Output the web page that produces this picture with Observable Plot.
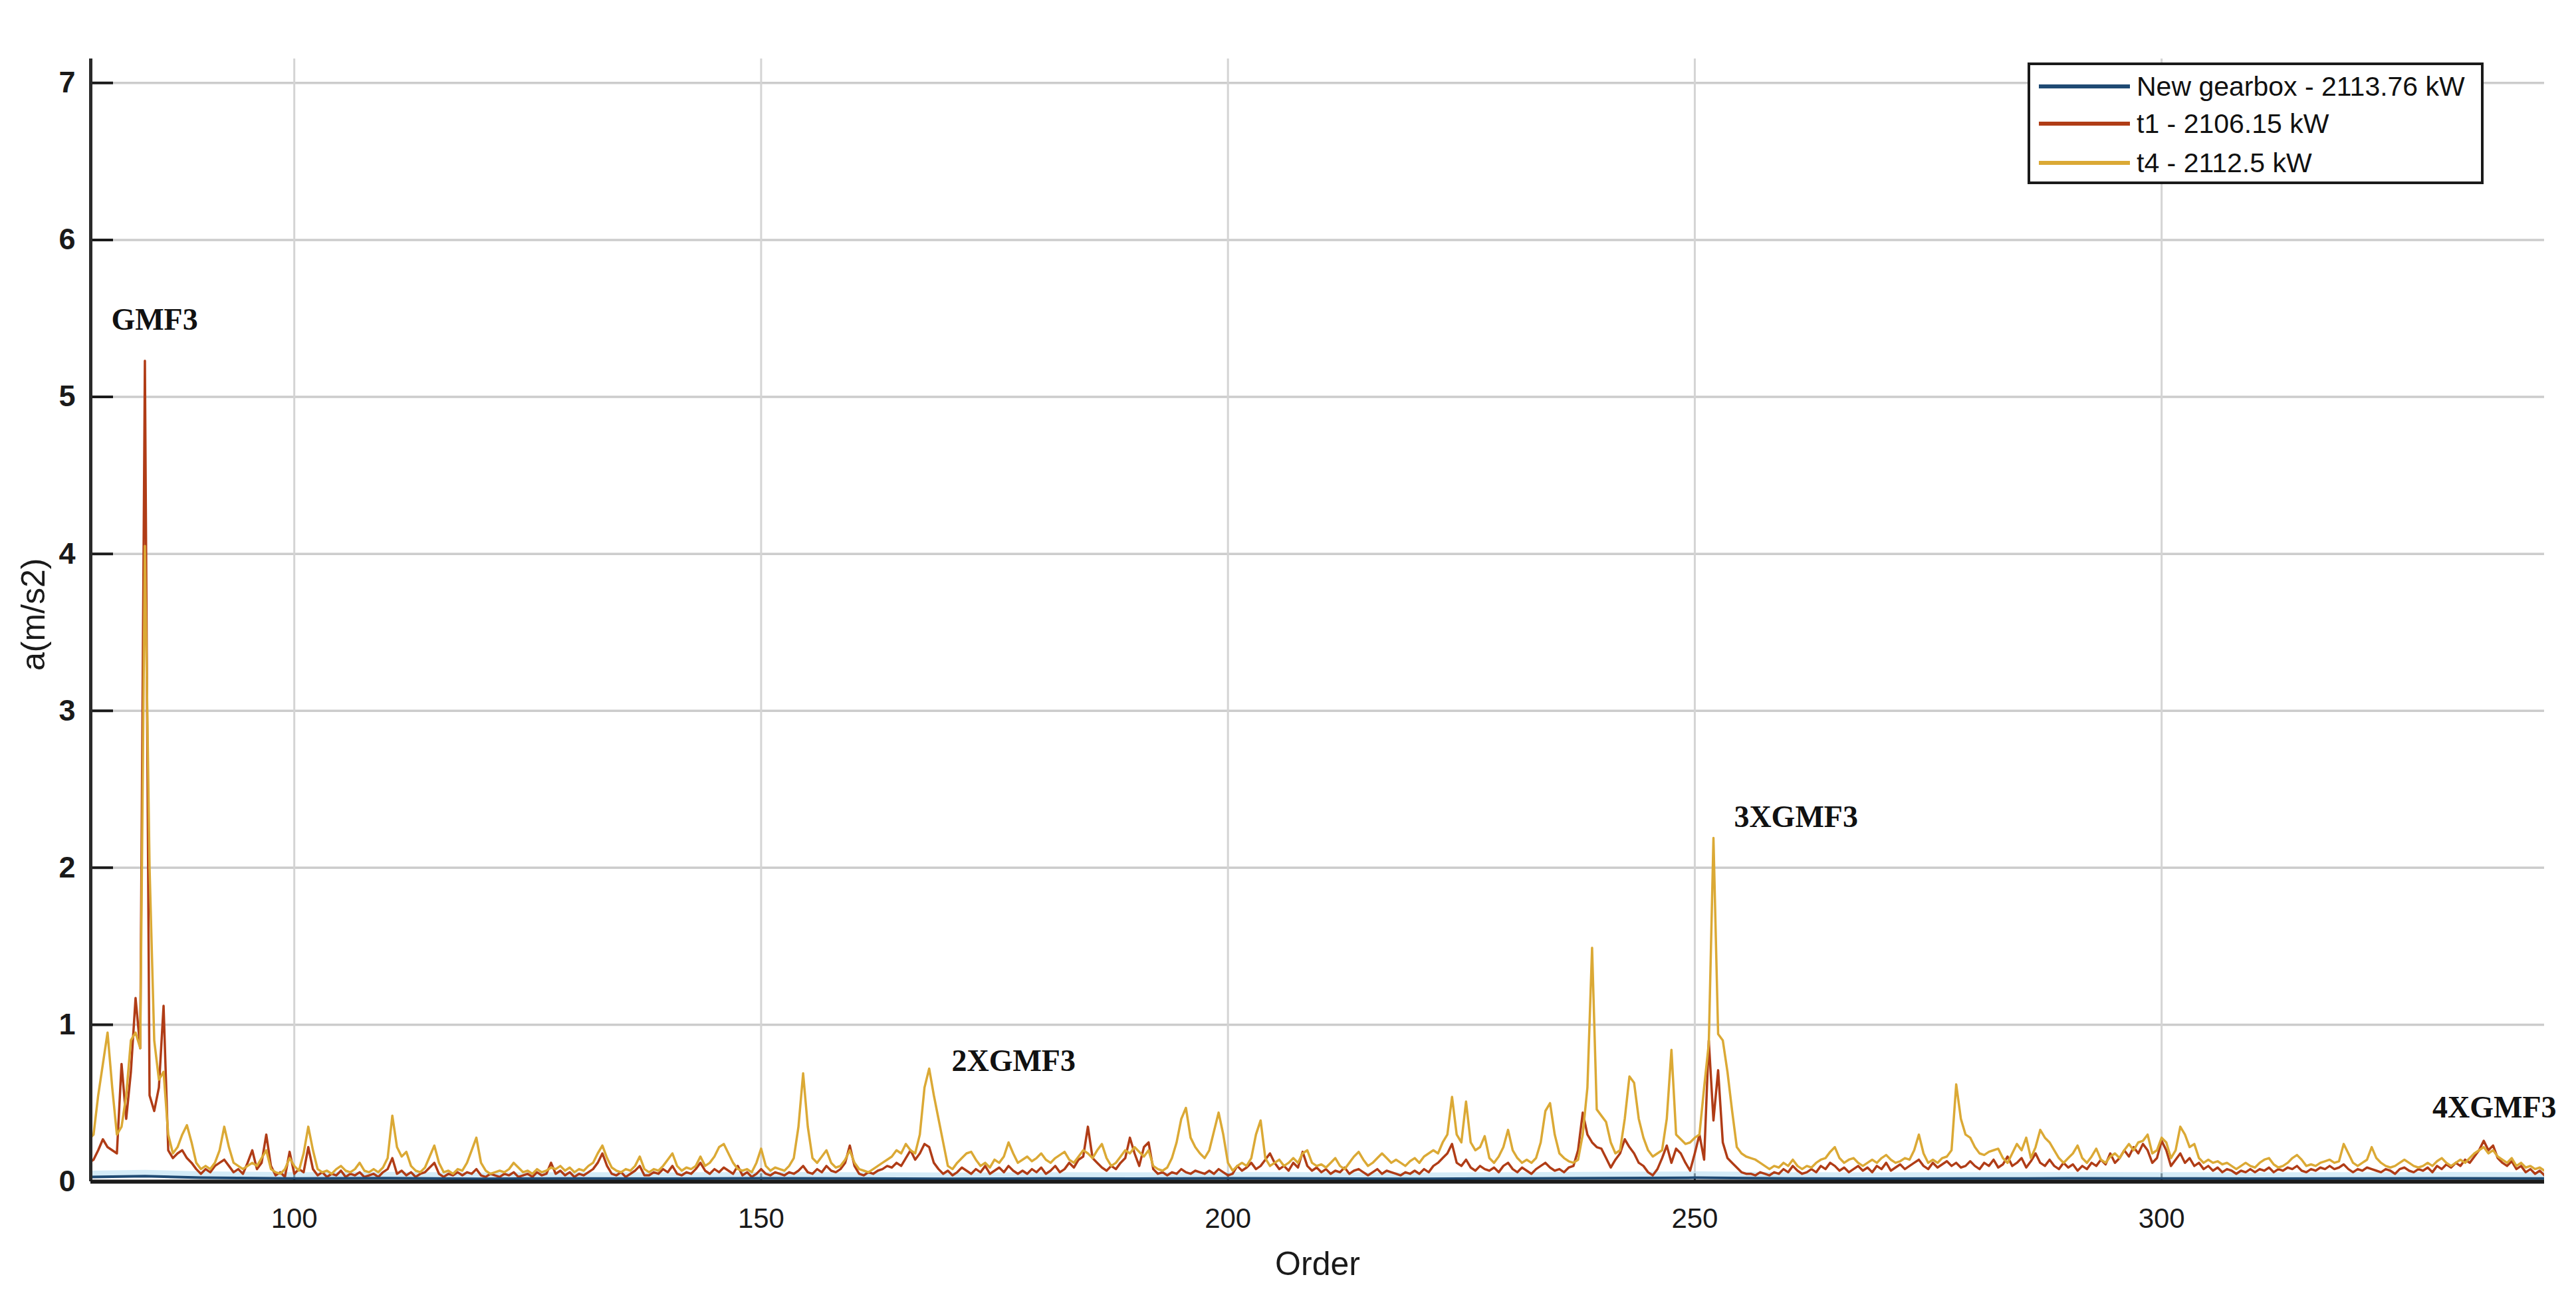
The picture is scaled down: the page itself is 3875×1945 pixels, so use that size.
<!DOCTYPE html>
<html><head><meta charset="utf-8">
<script src="https://cdn.jsdelivr.net/npm/d3@7"></script>
<script src="https://cdn.jsdelivr.net/npm/@observablehq/plot@0.6"></script>
<style>
body{margin:0;background:#fff;}
#wrap{position:relative;width:3875px;height:1945px;overflow:hidden;background:#fff;font-family:"Liberation Sans",Arial,sans-serif;}
#wrap svg{position:absolute;left:0;top:0;}
#legend{position:absolute;left:3050px;top:94px;width:686px;height:183px;box-sizing:border-box;border:4px solid #1a1a1a;background:#fff;}
.row{position:absolute;left:0;height:50px;display:flex;align-items:center;}
.sw{width:137px;height:6px;margin-left:13px;margin-right:10px;}
.lab{font-size:41px;color:#111;white-space:nowrap;}
</style></head><body><div id="wrap"><div id="legend"></div></div>
<script>
// ---- data (order grid starts at 78, step 0.5) ----
const orderStart = 78, orderStep = 0.5;
const t4Values = [
 0.27,0.3,0.55,0.75,0.95,0.6,0.3,0.35,0.55,0.9,0.95,0.85,4.05,2.0,0.9,0.65,0.7,0.3,0.18,0.22,
 0.3,0.36,0.25,0.12,0.08,0.1,0.08,0.12,0.2,0.35,0.22,0.12,0.1,0.08,0.1,0.12,0.1,0.15,0.2,0.08,
 0.06,0.05,0.08,0.15,0.1,0.07,0.18,0.35,0.2,0.08,0.06,0.07,0.05,0.08,0.1,0.07,0.06,0.08,0.12,0.07,
 0.06,0.08,0.06,0.09,0.15,0.42,0.22,0.16,0.19,0.1,0.07,0.06,0.09,0.16,0.23,0.12,0.06,0.07,0.05,0.08,
 0.07,0.12,0.2,0.28,0.12,0.07,0.05,0.06,0.07,0.06,0.08,0.12,0.09,0.06,0.07,0.05,0.08,0.06,0.07,0.09,
 0.08,0.1,0.07,0.09,0.06,0.08,0.07,0.1,0.12,0.18,0.23,0.15,0.09,0.07,0.06,0.08,0.07,0.1,0.16,0.08,
 0.06,0.08,0.07,0.1,0.14,0.18,0.1,0.07,0.09,0.08,0.1,0.16,0.1,0.12,0.16,0.22,0.24,0.18,0.12,0.08,
 0.07,0.08,0.06,0.12,0.21,0.1,0.07,0.09,0.08,0.07,0.1,0.15,0.35,0.69,0.35,0.15,0.12,0.16,0.2,0.12,
 0.09,0.1,0.14,0.2,0.12,0.08,0.07,0.06,0.08,0.1,0.12,0.14,0.16,0.2,0.18,0.24,0.2,0.18,0.3,0.6,
 0.72,0.55,0.4,0.25,0.1,0.08,0.12,0.15,0.18,0.19,0.14,0.1,0.12,0.09,0.14,0.12,0.16,0.25,0.18,0.12,
 0.14,0.16,0.13,0.15,0.18,0.14,0.12,0.15,0.17,0.19,0.14,0.12,0.16,0.2,0.18,0.15,0.2,0.24,0.15,0.1,
 0.12,0.16,0.2,0.18,0.22,0.19,0.16,0.2,0.1,0.08,0.07,0.09,0.15,0.25,0.4,0.47,0.28,0.22,0.18,0.15,
 0.2,0.32,0.44,0.3,0.12,0.07,0.1,0.12,0.1,0.15,0.3,0.39,0.15,0.1,0.12,0.14,0.1,0.12,0.15,0.12,
 0.18,0.2,0.12,0.1,0.11,0.09,0.12,0.15,0.1,0.08,0.12,0.16,0.19,0.14,0.1,0.12,0.15,0.18,0.15,0.12,
 0.14,0.12,0.1,0.13,0.15,0.12,0.16,0.18,0.2,0.18,0.25,0.3,0.54,0.3,0.25,0.51,0.25,0.2,0.22,0.29,
 0.15,0.12,0.16,0.22,0.33,0.2,0.15,0.12,0.14,0.12,0.15,0.25,0.45,0.5,0.3,0.18,0.15,0.13,0.12,0.14,
 0.3,0.6,1.49,0.46,0.42,0.38,0.25,0.18,0.2,0.4,0.67,0.63,0.4,0.28,0.2,0.16,0.18,0.2,0.4,0.84,
 0.3,0.27,0.24,0.25,0.28,0.3,0.6,0.88,2.19,0.94,0.9,0.7,0.45,0.22,0.18,0.16,0.15,0.14,0.12,0.1,
 0.08,0.1,0.09,0.12,0.1,0.14,0.1,0.08,0.1,0.09,0.12,0.14,0.15,0.19,0.22,0.15,0.12,0.14,0.15,0.12,
 0.1,0.12,0.14,0.12,0.15,0.17,0.14,0.12,0.13,0.15,0.14,0.2,0.3,0.18,0.12,0.14,0.12,0.15,0.16,0.2,
 0.62,0.4,0.3,0.28,0.22,0.18,0.17,0.19,0.2,0.21,0.15,0.12,0.18,0.24,0.2,0.28,0.15,0.22,0.33,0.28,
 0.25,0.2,0.15,0.12,0.15,0.18,0.23,0.15,0.12,0.16,0.21,0.14,0.12,0.16,0.18,0.15,0.2,0.24,0.2,0.25,
 0.26,0.3,0.18,0.2,0.28,0.25,0.15,0.2,0.35,0.3,0.22,0.24,0.15,0.12,0.14,0.12,0.13,0.11,0.12,0.1,
 0.08,0.1,0.12,0.1,0.09,0.12,0.14,0.15,0.11,0.09,0.1,0.12,0.15,0.17,0.14,0.1,0.11,0.1,0.12,0.13,
 0.14,0.12,0.13,0.24,0.18,0.12,0.1,0.12,0.14,0.22,0.15,0.12,0.1,0.09,0.1,0.12,0.14,0.12,0.1,0.09,
 0.1,0.12,0.1,0.13,0.15,0.12,0.1,0.12,0.14,0.12,0.15,0.18,0.2,0.22,0.18,0.2,0.16,0.14,0.12,0.15,0.1,0.12,0.09,0.1,0.08,0.09,0.07
];
const t1Values = [
 0.12,0.14,0.2,0.27,0.22,0.2,0.18,0.75,0.4,0.7,1.17,0.85,5.23,0.55,0.45,0.6,1.12,0.2,0.15,0.18,
 0.2,0.15,0.12,0.08,0.05,0.08,0.06,0.1,0.12,0.14,0.1,0.06,0.08,0.05,0.12,0.2,0.08,0.12,0.3,0.1,
 0.04,0.06,0.03,0.19,0.05,0.08,0.06,0.22,0.08,0.04,0.06,0.03,0.05,0.04,0.07,0.03,0.05,0.04,0.06,0.03,
 0.04,0.05,0.03,0.06,0.08,0.15,0.05,0.07,0.04,0.06,0.03,0.05,0.06,0.09,0.12,0.05,0.03,0.05,0.04,0.06,
 0.04,0.06,0.05,0.08,0.04,0.03,0.05,0.04,0.03,0.05,0.04,0.06,0.03,0.04,0.05,0.03,0.06,0.04,0.05,0.12,
 0.05,0.07,0.04,0.06,0.03,0.05,0.04,0.06,0.08,0.12,0.18,0.1,0.05,0.04,0.06,0.03,0.05,0.07,0.1,0.04,
 0.04,0.06,0.05,0.08,0.06,0.1,0.05,0.04,0.06,0.05,0.08,0.12,0.07,0.05,0.08,0.06,0.09,0.07,0.05,0.1,
 0.04,0.06,0.03,0.05,0.08,0.05,0.04,0.06,0.05,0.04,0.06,0.05,0.07,0.1,0.06,0.05,0.08,0.06,0.1,0.07,
 0.06,0.08,0.12,0.23,0.1,0.05,0.04,0.06,0.05,0.07,0.08,0.1,0.09,0.12,0.1,0.15,0.2,0.14,0.18,0.24,
 0.22,0.12,0.08,0.05,0.07,0.04,0.06,0.09,0.07,0.05,0.08,0.06,0.1,0.05,0.07,0.09,0.06,0.1,0.07,0.05,
 0.07,0.05,0.08,0.06,0.09,0.05,0.07,0.1,0.06,0.08,0.12,0.09,0.14,0.16,0.35,0.15,0.12,0.09,0.07,0.1,
 0.08,0.12,0.15,0.28,0.18,0.1,0.22,0.25,0.08,0.05,0.06,0.04,0.06,0.05,0.08,0.06,0.05,0.07,0.06,0.05,
 0.07,0.05,0.08,0.06,0.04,0.05,0.1,0.07,0.09,0.12,0.08,0.1,0.14,0.18,0.12,0.08,0.1,0.07,0.12,0.09,
 0.19,0.1,0.07,0.09,0.06,0.08,0.05,0.07,0.06,0.09,0.05,0.07,0.08,0.06,0.04,0.06,0.08,0.05,0.07,0.06,
 0.05,0.04,0.06,0.05,0.07,0.05,0.08,0.06,0.1,0.12,0.15,0.18,0.24,0.12,0.1,0.14,0.09,0.07,0.1,0.08,
 0.07,0.09,0.06,0.1,0.12,0.08,0.06,0.09,0.07,0.05,0.08,0.1,0.12,0.09,0.07,0.08,0.06,0.09,0.1,0.2,
 0.44,0.3,0.25,0.22,0.21,0.15,0.09,0.14,0.18,0.27,0.22,0.18,0.12,0.1,0.06,0.04,0.08,0.15,0.23,0.12,
 0.21,0.18,0.12,0.07,0.18,0.3,0.14,0.9,0.39,0.71,0.25,0.15,0.12,0.09,0.06,0.05,0.05,0.04,0.06,0.05,
 0.04,0.06,0.05,0.08,0.06,0.1,0.07,0.05,0.06,0.08,0.06,0.1,0.08,0.12,0.1,0.07,0.09,0.06,0.08,0.1,
 0.07,0.09,0.06,0.1,0.08,0.12,0.07,0.09,0.11,0.08,0.1,0.12,0.14,0.1,0.08,0.12,0.09,0.11,0.13,0.1,
 0.12,0.09,0.1,0.13,0.1,0.08,0.12,0.1,0.14,0.09,0.11,0.16,0.1,0.12,0.15,0.09,0.13,0.18,0.12,0.1,
 0.14,0.1,0.08,0.12,0.09,0.11,0.07,0.1,0.08,0.12,0.1,0.14,0.11,0.18,0.12,0.15,0.2,0.16,0.22,0.18,
 0.24,0.2,0.12,0.15,0.26,0.2,0.1,0.14,0.18,0.12,0.15,0.1,0.12,0.08,0.1,0.07,0.09,0.06,0.08,0.07,
 0.05,0.07,0.06,0.08,0.06,0.08,0.07,0.09,0.06,0.08,0.07,0.09,0.08,0.1,0.07,0.06,0.08,0.07,0.09,0.08,
 0.1,0.08,0.09,0.11,0.08,0.06,0.08,0.07,0.09,0.08,0.07,0.06,0.08,0.07,0.05,0.08,0.09,0.07,0.06,0.08,
 0.07,0.09,0.06,0.1,0.08,0.11,0.09,0.12,0.1,0.14,0.12,0.16,0.2,0.26,0.2,0.23,0.15,0.12,0.1,0.13,0.08,0.1,0.06,0.08,0.05,0.07,0.04
];
const newOrders = [78,84,90,100,110,120,130,140,150,160,170,180,190,200,210,220,230,240,250,260,270,280,290,300,310,320,330,341];
const newValues = [0.03,0.035,0.025,0.02,0.022,0.018,0.02,0.019,0.021,0.02,0.018,0.02,0.019,0.021,0.02,0.018,0.02,0.022,0.025,0.02,0.019,0.02,0.021,0.02,0.019,0.02,0.021,0.02];
const seriesNames = ["New gearbox - 2113.76 kW", "t1 - 2106.15 kW", "t4 - 2112.5 kW"];
const seriesColors = ["#1f4a73", "#b03c16", "#dba935"];
const yTicks = [0, 1, 2, 3, 4, 5, 6, 7];
const xTicks = [100, 150, 200, 250, 300];
const annotations = [
  {label: "GMF3", order: 80.4, value: 5.43},
  {label: "2XGMF3", order: 170.4, value: 0.707},
  {label: "3XGMF3", order: 254.2, value: 2.26},
  {label: "4XGMF3", order: 329.0, value: 0.41}
];
const xLabel = "Order", yLabel = "a(m/s2)";

// ---- build tables ----
const t1Rows = t1Values.map((v, i) => ({order: orderStart + i * orderStep, value: v}));
const t4Rows = t4Values.map((v, i) => ({order: orderStart + i * orderStep, value: v}));
const newRows = newOrders.map((o, i) => ({order: o, value: newValues[i]}));

const W = 3875, H = 1945;
const mL = 136, mR = 48, mT = 88, mB = 168;
const xDomain = [78.2, 341.0], yDomain = [0, 7.154];

const chart = Plot.plot({
  width: W, height: H,
  marginLeft: mL, marginRight: mR, marginTop: mT, marginBottom: mB,
  x: {domain: xDomain},
  y: {domain: yDomain},
  style: {fontFamily: "'Liberation Sans', Arial, sans-serif", fontSize: "42px", color: "#1a1a1a", background: "transparent", overflow: "visible"},
  marks: [
    Plot.gridY(yTicks.filter(d => d > 0), {stroke: "#cccccc", strokeOpacity: 1, strokeWidth: 3.5}),
    Plot.gridX(xTicks, {stroke: "#d4d4d4", strokeOpacity: 1, strokeWidth: 3}),
    Plot.ruleY(yTicks.filter(d => d > 0), {y: d => d, stroke: "#1a1a1a", strokeWidth: 4, insetRight: (W - mL - mR) - 34}),
    Plot.ruleX(xTicks, {x: d => d, stroke: "#1a1a1a", strokeWidth: 3, insetTop: (H - mT - mB) - 12}),
    Plot.line(newRows, {x: "order", y: "value", stroke: "#b7def2", strokeWidth: 9, strokeOpacity: 0.6, dy: -5, clip: true}),
    Plot.line(t1Rows, {x: "order", y: "value", stroke: seriesColors[1], strokeWidth: 3.5, strokeLinejoin: "round", clip: true}),
    Plot.line(t4Rows, {x: "order", y: "value", stroke: seriesColors[2], strokeWidth: 3.5, strokeLinejoin: "round", clip: true}),
    Plot.line(newRows, {x: "order", y: "value", stroke: seriesColors[0], strokeWidth: 4, clip: true}),
    Plot.ruleX([xDomain[0]], {stroke: "#2a2a2a", strokeWidth: 5}),
    Plot.ruleY([0], {stroke: "#1a1a1a", strokeWidth: 6}),
    Plot.axisY(yTicks, {tickSize: 0, tickPadding: 23, fontSize: 45, fontWeight: "bold", tickFormat: d => String(d), label: null}),
    Plot.axisX(xTicks, {tickSize: 0, tickPadding: 40, fontSize: 42, tickFormat: d => String(d), label: null}),
    Plot.text([xLabel], {frameAnchor: "bottom", dy: 140, fontSize: 50, fill: "#1a1a1a"}),
    Plot.text([yLabel], {frameAnchor: "left", dx: -86, dy: 76, rotate: -90, fontSize: 50, fill: "#1a1a1a"}),
    Plot.text(annotations, {x: "order", y: "value", text: "label", textAnchor: "start", lineAnchor: "bottom",
      fontFamily: "'Liberation Serif', 'Times New Roman', serif", fontWeight: "bold", fontSize: 46, fill: "#111"})
  ]
});
const wrap = document.getElementById("wrap");
wrap.insertBefore(chart, wrap.firstChild);

// ---- legend ----
const legend = document.getElementById("legend");
const rowCenters = [32, 88, 147];
seriesNames.forEach((name, i) => {
  const row = document.createElement("div");
  row.className = "row";
  row.style.top = (rowCenters[i] - 25) + "px";
  const sw = document.createElement("div");
  sw.className = "sw";
  sw.style.background = seriesColors[i];
  const lab = document.createElement("div");
  lab.className = "lab";
  lab.textContent = name;
  row.appendChild(sw); row.appendChild(lab);
  legend.appendChild(row);
});
</script>
</body></html>
